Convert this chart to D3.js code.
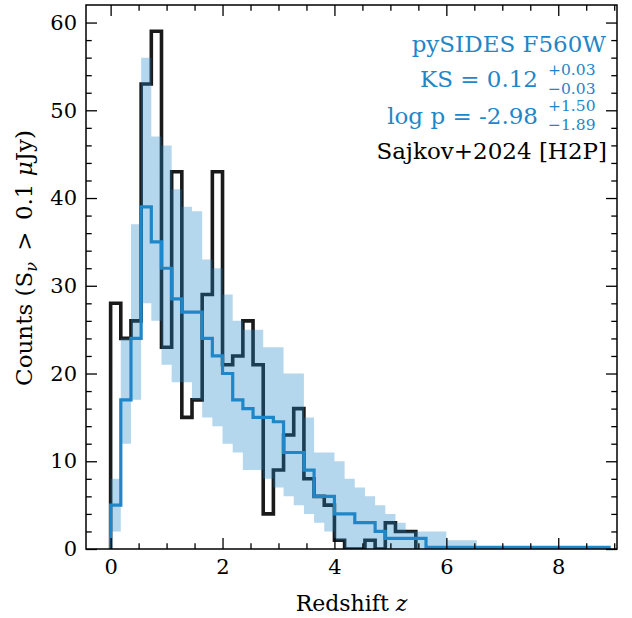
<!DOCTYPE html>
<html><head><meta charset="utf-8">
<script src="https://cdn.jsdelivr.net/npm/d3@7"></script>
<style>body{margin:0;background:#fff}svg{display:block}text{font-family:"DejaVu Serif",serif}</style>
</head><body><div id="chart"></div>
<script>
// ---- data ----
const binWidth = 10 / 55;              // redshift bin width
const observedCounts = [28,24,26,53,59,23,43,15,17,29,43,21,22,26,21,4,9,13,16,8,6,5,1,0,0,1,0,3,2,2];
const simMedian = [5,17,24,39,35,32,28.5,27,27,24,22,20,17,16,15,15,14.5,11,11,9,6,6,4,4,3,3,2,1.2,1.2,1.2,1.2,
  0.2,0.2,0.2,0.2,0.2,0.2,0.2,0.2,0.2,0.2,0.2,0.2,0.2,0.2,0.2,0.2,0.2,0.2];
const simLow  = [2,12,17,28,26,21,19,19,17,15,14,12,11,9,9,8,7,6,5,4,3,2,1,0,0,0,0,0,0,0,0,0,0,0,0,0];
const simHigh = [8,24,37,56,47,46,41,39,38.5,33,32,29,26,25,25,23,23,20,20,15,11,11,10,8,7,6,5,4,3,2,2,2,2,1,1,1];
const xMajorTicks = [0,2,4,6,8];
const xMinorTicks = [0.5,1,1.5,2.5,3,3.5,4.5,5,5.5,6.5,7,7.5,8.5,9];
const yMajorTicks = [0,10,20,30,40,50,60];
const yMinorTicks = [2,4,6,8,12,14,16,18,22,24,26,28,32,34,36,38,42,44,46,48,52,54,56,58];

const W = 632, H = 618;
const m = {l:86, r:617, t:5, b:549};
const blue = "#1f86c8";

const svg = d3.select("#chart").append("svg").attr("width", W).attr("height", H);
const x = d3.scaleLinear().domain([-0.44, 9.05]).range([m.l, m.r]);
const y = d3.scaleLinear().domain([0, 62]).range([m.b, m.t]);

const plot = svg.append("g");
plot.append("defs").append("clipPath").attr("id","clip")
  .append("rect").attr("x",m.l).attr("y",m.t).attr("width",m.r-m.l).attr("height",m.b-m.t);
const g = plot.append("g").attr("clip-path","url(#clip)");

function stepPoints(vals){
  const pts = [[0,0]];
  vals.forEach((v,i)=>pts.push([i*binWidth, v]));
  pts.push([vals.length*binWidth, vals[vals.length-1]]);
  pts.push([vals.length*binWidth, 0]);
  return pts;
}
const line = d3.line().x(d=>x(d[0])).y(d=>y(d[1])).curve(d3.curveStepAfter);

// observed histogram (black)
g.append("path").datum(stepPoints(observedCounts)).attr("d", line)
  .attr("fill","none").attr("stroke","#1a1a1a").attr("stroke-width",3.6).attr("stroke-linejoin","miter");

// simulated band
const band = simLow.map((lo,i)=>({x:i*binWidth, lo, hi:simHigh[i]}));
band.push({x:simLow.length*binWidth, lo:simLow[simLow.length-1], hi:simHigh[simHigh.length-1]});
const area = d3.area().x(d=>x(d.x)).y0(d=>y(d.lo)).y1(d=>y(d.hi)).curve(d3.curveStepAfter);
g.append("path").datum(band).attr("d", area).attr("fill", blue).attr("fill-opacity",0.335);

// simulated median (blue)
g.append("path").datum(stepPoints(simMedian)).attr("d", line)
  .attr("fill","none").attr("stroke",blue).attr("stroke-width",3.2).attr("stroke-linejoin","miter");

// ---- axes ----
const tickW = 1.3;
function styleAxis(sel){ sel.select(".domain").remove(); sel.selectAll("line").attr("stroke","#000").attr("stroke-width",tickW); }
const bottom = svg.append("g").attr("transform",`translate(0,${m.b})`)
  .call(d3.axisBottom(x).tickValues(xMajorTicks).tickSize(-11).tickPadding(10).tickFormat(d3.format("d")));
styleAxis(bottom);
bottom.selectAll("text").attr("font-size",21).attr("fill","#000").attr("font-family","DejaVu Serif");
svg.append("g").attr("transform",`translate(0,${m.b})`)
  .call(d3.axisBottom(x).tickValues(xMinorTicks).tickSize(-5.7).tickFormat("")).call(styleAxis);
svg.append("g").attr("transform",`translate(0,${m.t})`)
  .call(d3.axisTop(x).tickValues(xMajorTicks).tickSize(-11).tickFormat("")).call(styleAxis);
svg.append("g").attr("transform",`translate(0,${m.t})`)
  .call(d3.axisTop(x).tickValues(xMinorTicks).tickSize(-5.7).tickFormat("")).call(styleAxis);

const left = svg.append("g").attr("transform",`translate(${m.l},0)`)
  .call(d3.axisLeft(y).tickValues(yMajorTicks).tickSize(-11).tickPadding(9).tickFormat(d3.format("d")));
styleAxis(left);
left.selectAll("text").attr("font-size",21).attr("fill","#000").attr("font-family","DejaVu Serif");
svg.append("g").attr("transform",`translate(${m.l},0)`)
  .call(d3.axisLeft(y).tickValues(yMinorTicks).tickSize(-5.7).tickFormat("")).call(styleAxis);
svg.append("g").attr("transform",`translate(${m.r},0)`)
  .call(d3.axisRight(y).tickValues(yMajorTicks).tickSize(-11).tickFormat("")).call(styleAxis);
svg.append("g").attr("transform",`translate(${m.r},0)`)
  .call(d3.axisRight(y).tickValues(yMinorTicks).tickSize(-5.7).tickFormat("")).call(styleAxis);

svg.append("rect").attr("x",m.l).attr("y",m.t).attr("width",m.r-m.l).attr("height",m.b-m.t)
  .attr("fill","none").attr("stroke","#000").attr("stroke-width",1.5);

// axis labels
const xl = svg.append("text").attr("x",(m.l+m.r)/2).attr("y",611).attr("text-anchor","middle")
  .attr("font-size",22).attr("fill","#000");
xl.append("tspan").text("Redshift ");
xl.append("tspan").attr("font-style","italic").text("z");

const yl = svg.append("text").attr("transform",`translate(32,258) rotate(-90)`)
  .attr("text-anchor","middle").attr("font-size",23).attr("fill","#000");
yl.append("tspan").text("Counts (S");
yl.append("tspan").attr("font-size",16).attr("dy",5).attr("font-style","italic").text("ν");
yl.append("tspan").attr("dy",-5).attr("dx",4).text(" > ");
yl.append("tspan").attr("dx",4).text("0.1 ");
yl.append("tspan").attr("font-style","italic").text("μ");
yl.append("tspan").text("Jy)");

// annotation block
const ann = svg.append("g");
ann.append("text").attr("x",606).attr("y",52).attr("text-anchor","end").attr("font-size",23)
  .attr("fill",blue).text("pySIDES F560W");
function statLine(main, sup, sub, yb){
  ann.append("text").attr("x",538).attr("y",yb).attr("text-anchor","end").attr("font-size",23)
    .attr("fill",blue).text(main);
  ann.append("text").attr("x",548).attr("y",yb-12.5).attr("font-size",15.5).attr("fill",blue).text(sup);
  ann.append("text").attr("x",548).attr("y",yb+6.5).attr("font-size",15.5).attr("fill",blue).text(sub);
}
statLine("KS = 0.12", "+0.03", "\u22120.03", 87);
statLine("log p = -2.98", "+1.50", "\u22121.89", 123.5);
ann.append("text").attr("x",607).attr("y",159).attr("text-anchor","end").attr("font-size",23)
  .attr("fill","#000").text("Sajkov+2024 [H2P]");
</script></body></html>
